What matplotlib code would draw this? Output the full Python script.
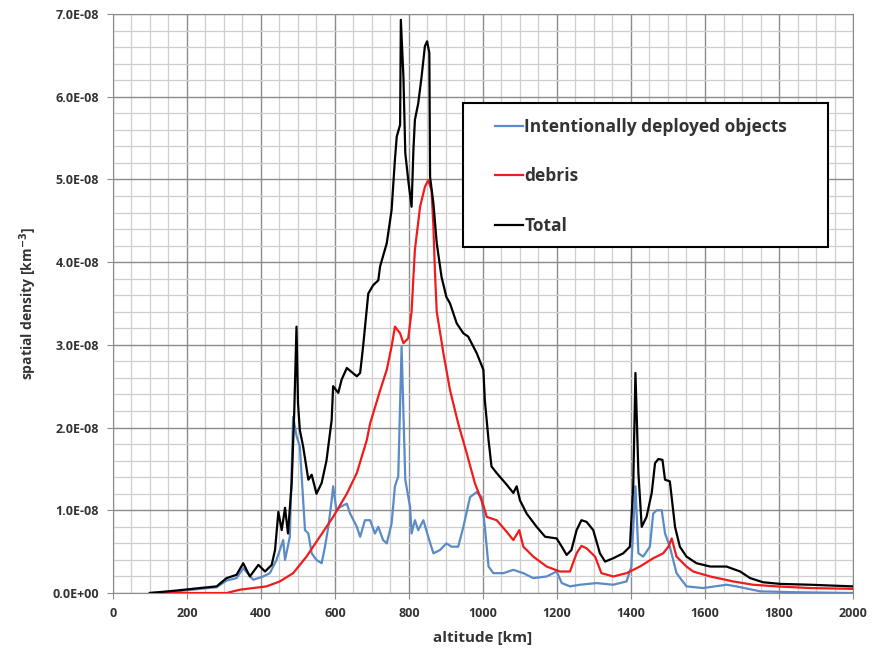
import matplotlib
matplotlib.use("Agg")
import matplotlib.pyplot as plt
from matplotlib.patches import Rectangle
from matplotlib.ticker import MultipleLocator, FuncFormatter

# values, density in units of 1e-8 km^-3
total_alt = [100, 172, 235, 280, 307, 334, 352, 370, 393, 411, 429, 438, 447, 456, 465,
             473, 483, 490, 496, 500, 505, 514, 528, 537, 550, 564, 577, 591, 595, 609,
             618, 632, 659, 668, 676, 690, 703, 717, 722, 740, 753, 762, 767, 776, 778,
             785, 790, 798, 807, 812, 816, 825, 834, 843, 849, 855, 857, 866, 875, 888,
             901, 911, 929, 947, 960, 983, 1001, 1005, 1015, 1023, 1037, 1064, 1082, 1091,
             1100, 1118, 1145, 1168, 1199, 1213, 1226, 1239, 1253, 1266, 1280, 1298, 1316,
             1330, 1352, 1379, 1397, 1406, 1412, 1420, 1429, 1442, 1456, 1465, 1474, 1485,
             1492, 1505, 1519, 1532, 1550, 1577, 1614, 1658, 1695, 1722, 1757, 1803, 1884,
             2000]
total_val = [0.0, 0.03, 0.06, 0.08, 0.18, 0.22, 0.36, 0.2, 0.34, 0.26, 0.34, 0.52, 0.98,
             0.76, 1.03, 0.72, 1.33, 2.2, 3.22, 2.3, 1.97, 1.77, 1.37, 1.43, 1.2, 1.33,
             1.6, 2.09, 2.5, 2.42, 2.58, 2.72, 2.62, 2.66, 2.98, 3.62, 3.72, 3.78, 3.95,
             4.23, 4.63, 5.24, 5.52, 5.66, 6.93, 6.24, 5.32, 4.99, 4.67, 5.36, 5.72, 5.92,
             6.24, 6.61, 6.67, 6.53, 5.03, 4.71, 4.23, 3.82, 3.58, 3.5, 3.26, 3.14, 3.1,
             2.9, 2.7, 2.33, 1.85, 1.53, 1.45, 1.31, 1.21, 1.29, 1.12, 0.96, 0.8, 0.68,
             0.66, 0.56, 0.46, 0.52, 0.76, 0.88, 0.86, 0.76, 0.48, 0.38, 0.42, 0.48, 0.56,
             1.29, 2.66, 1.45, 0.8, 0.92, 1.21, 1.57, 1.62, 1.61, 1.37, 1.35, 0.8, 0.56,
             0.44, 0.36, 0.32, 0.32, 0.26, 0.18, 0.13, 0.11, 0.1, 0.08]

debris_alt = [100, 235, 307, 343, 379, 415, 451, 487, 523, 559, 595, 632, 659, 686, 695,
              722, 740, 753, 762, 776, 785, 798, 807, 816, 830, 843, 852, 861, 866, 870,
              875, 893, 911, 933, 956, 978, 1001, 1010, 1037, 1064, 1082, 1098, 1109,
              1136, 1172, 1208, 1235, 1253, 1266, 1280, 1303, 1320, 1352, 1388, 1424,
              1460, 1487, 1501, 1510, 1523, 1550, 1568, 1614, 1676, 1730, 1793, 1884, 2000]
debris_val = [0.0, 0.0, 0.0, 0.04, 0.06, 0.08, 0.14, 0.24, 0.44, 0.68, 0.92, 1.2, 1.45,
              1.85, 2.05, 2.45, 2.7, 2.98, 3.22, 3.14, 3.02, 3.08, 3.4, 4.15, 4.67, 4.91,
              4.99, 4.87, 4.43, 3.9, 3.4, 2.9, 2.45, 2.05, 1.69, 1.33, 1.06, 0.92, 0.88,
              0.74, 0.64, 0.76, 0.56, 0.44, 0.32, 0.26, 0.26, 0.48, 0.57, 0.54, 0.44,
              0.24, 0.2, 0.24, 0.32, 0.42, 0.48, 0.56, 0.66, 0.44, 0.32, 0.26, 0.2, 0.14,
              0.1, 0.08, 0.06, 0.05]

deployed_alt = [100, 172, 235, 280, 307, 334, 352, 379, 406, 424, 442, 460, 465, 478, 487,
                496, 505, 510, 519, 528, 537, 550, 564, 573, 582, 591, 595, 604, 614, 632,
                641, 659, 668, 681, 695, 708, 717, 730, 740, 753, 762, 771, 780, 790, 803,
                807, 816, 825, 839, 852, 866, 884, 901, 915, 933, 947, 965, 983, 996, 1005,
                1015, 1028, 1055, 1082, 1109, 1136, 1172, 1199, 1213, 1235, 1262, 1307,
                1352, 1388, 1401, 1408, 1412, 1420, 1433, 1451, 1460, 1469, 1483, 1492,
                1505, 1523, 1550, 1595, 1658, 1685, 1749, 1838, 2000]
deployed_val = [0.0, 0.02, 0.05, 0.07, 0.15, 0.18, 0.3, 0.16, 0.2, 0.24, 0.4, 0.64, 0.4,
                0.68, 2.13, 1.9, 1.77, 1.41, 0.76, 0.72, 0.48, 0.4, 0.36, 0.56, 0.8, 1.12,
                1.29, 1.0, 1.04, 1.08, 0.96, 0.8, 0.68, 0.88, 0.88, 0.72, 0.8, 0.64, 0.6,
                0.84, 1.29, 1.41, 2.98, 1.37, 1.04, 0.72, 0.88, 0.76, 0.88, 0.68, 0.48,
                0.52, 0.6, 0.56, 0.56, 0.8, 1.16, 1.22, 1.16, 0.8, 0.32, 0.24, 0.24, 0.28,
                0.24, 0.18, 0.2, 0.26, 0.12, 0.08, 0.1, 0.12, 0.1, 0.14, 0.32, 0.96, 1.29,
                0.48, 0.44, 0.56, 0.96, 1.0, 1.0, 0.72, 0.56, 0.24, 0.08, 0.06, 0.1, 0.08,
                0.02, 0.01, 0.0]

SCALE = 1e-8
BLUE = "#5B8BC6"
RED = "#F01C1C"
TEXT = "#333333"

plt.rcParams["font.family"] = ["Open Sans", "DejaVu Sans"]

fig = plt.figure(figsize=(8.73, 6.57), dpi=100)
ax = fig.add_axes([0.1294, 0.0974, 0.8477, 0.8813])

ax.plot(deployed_alt, [v * SCALE for v in deployed_val], color=BLUE, lw=1.6,
        label="Intentionally deployed objects", zorder=3)
ax.plot(debris_alt, [v * SCALE for v in debris_val], color=RED, lw=1.6,
        label="debris", zorder=4)
ax.plot(total_alt, [v * SCALE for v in total_val], color="black", lw=1.6,
        label="Total", zorder=5)

ax.set_xlim(0, 2000)
ax.set_ylim(0, 7e-8)
ax.xaxis.set_major_locator(MultipleLocator(200))
ax.xaxis.set_minor_locator(MultipleLocator(50))
ax.yaxis.set_major_locator(MultipleLocator(1e-8))
ax.yaxis.set_minor_locator(MultipleLocator(0.2e-8))
ax.yaxis.set_major_formatter(FuncFormatter(lambda v, p: f"{v:.1E}"))

ax.grid(which="major", color="#8c8c8c", lw=1.0, zorder=1)
ax.grid(which="minor", color="#cfcfcf", lw=0.9, zorder=0)
ax.set_axisbelow(True)

for s in ax.spines.values():
    s.set_color("#8c8c8c")
ax.tick_params(which="major", length=4, color="#8c8c8c", labelsize=9,
               labelcolor=TEXT, pad=6)
ax.tick_params(which="minor", length=0)
for lbl in ax.get_xticklabels() + ax.get_yticklabels():
    lbl.set_fontweight("bold")

ax.set_xlabel("altitude [km]", fontsize=11, fontweight="bold", color=TEXT, labelpad=8)
ax.set_ylabel(r"spatial density [km$^{\mathbf{-3}}$]", fontsize=10, fontweight="bold",
              color=TEXT, labelpad=10)

# legend box drawn by hand so it can be wider than its entries
box = Rectangle((0.473, 0.598), 0.493, 0.248, transform=ax.transAxes,
                facecolor="white", edgecolor="black", lw=1.5, zorder=6)
ax.add_patch(box)
leg = ax.legend(loc="upper left", bbox_to_anchor=(0.516, 0.820), fontsize=12.5,
                handlelength=1.6, handletextpad=0.1, labelspacing=1.8,
                borderpad=0, borderaxespad=0, frameon=False)
leg.set_zorder(7)
for t in leg.get_texts():
    t.set_fontweight("bold")
    t.set_color(TEXT)

fig.savefig("out.png", dpi=100)
